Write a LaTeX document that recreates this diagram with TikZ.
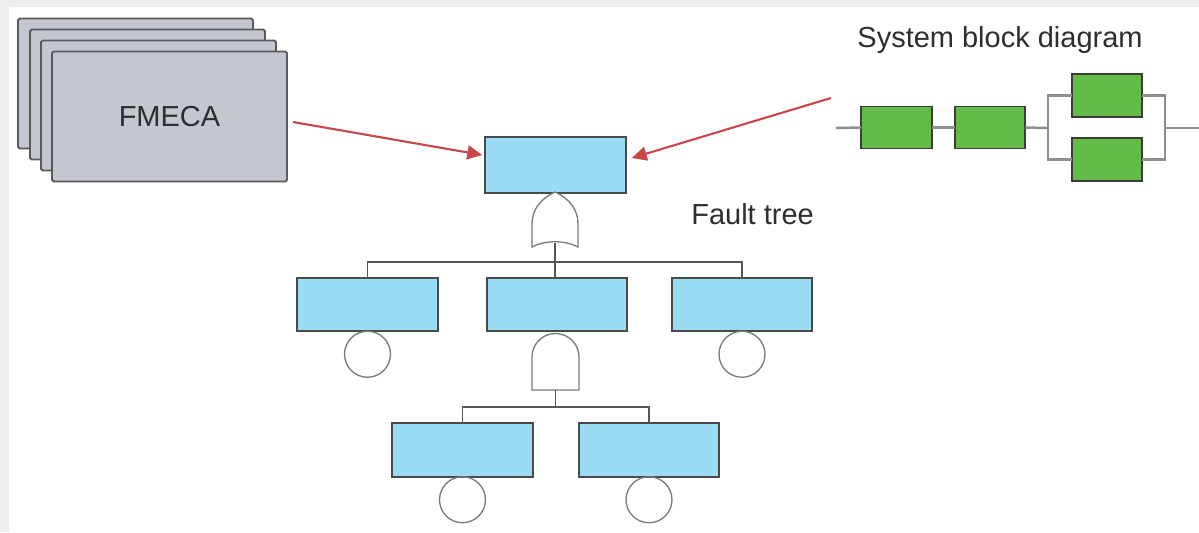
\documentclass[tikz,border=0pt]{standalone}
\usepackage{fontspec}
\setmainfont{Liberation Sans}
\usetikzlibrary{arrows.meta}
\definecolor{fmfill}{HTML}{C4C7D0}
\definecolor{fmdraw}{HTML}{5A5A5A}
\definecolor{ftfill}{HTML}{9ADCF4}
\definecolor{ftdraw}{HTML}{4A4A4A}
\definecolor{gfill}{HTML}{62BB46}
\definecolor{gdraw}{HTML}{3C3C3C}
\definecolor{sline}{HTML}{8E8E8E}
\definecolor{tline}{HTML}{555555}
\definecolor{gateline}{HTML}{7A7A7A}
\definecolor{redar}{HTML}{C8474A}
\definecolor{txt}{HTML}{2E2E2E}
\definecolor{bgband}{HTML}{EDEDED}
\tikzset{
  fmbox/.style={draw=fmdraw, fill=fmfill, line width=1.1pt, rounded corners=1pt,
    minimum width=4.7cm, minimum height=2.6cm, inner sep=0pt, outer sep=0pt},
  ftbox/.style={draw=ftdraw, fill=ftfill, line width=0.9pt,
    minimum width=2.81cm, minimum height=1.07cm, inner sep=0pt, outer sep=0pt},
  gbox/.style={draw=gdraw, fill=gfill, line width=0.9pt,
    minimum width=1.41cm, minimum height=0.84cm, inner sep=0pt, outer sep=0pt},
  evt/.style={draw=gateline, circle, line width=0.75pt, minimum size=0.92cm,
    inner sep=0pt, outer sep=0pt},
  gatepath/.style={draw=gateline, line width=0.75pt, fill=white},
  treeline/.style={draw=tline, line width=0.9pt},
  sysline/.style={draw=sline, line width=1.4pt},
  redarrow/.style={draw=redar, line width=1.2pt,
    -{Triangle[length=0.3cm,width=0.28cm]}},
  lbl/.style={text=txt, font=\fontsize{16.5}{20}\selectfont, inner sep=0pt}
}
\begin{document}
\begin{tikzpicture}[x=0.02cm,y=-0.02cm]
% background
\fill[bgband] (0,0) rectangle (1199,532);
\fill[white] (9,7) rectangle (1199,532);
\useasboundingbox (0,0) rectangle (1199,532);

% FMECA stack
\node[fmbox] (f1) at (135.5,83.5) {};
\node[fmbox] (f2) at (147.5,94.5) {};
\node[fmbox] (f3) at (158.5,105.5) {};
\node[fmbox] (f4) at (169.5,116.5) {};
\node[lbl] (fmtext) at (169.5,116.5) {FMECA};

% fault tree
\node[ftbox, minimum height=1.12cm] (top) at (555.5,165) {};
\node[ftbox] (b1) at (367.5,304.5) {};
\node[ftbox] (b2) at (557,304.5) {};
\node[ftbox] (b3) at (742,304.5) {};
\node[ftbox] (b4) at (462.5,450) {};
\node[ftbox] (b5) at (649,450) {};

\node[evt, anchor=north] (e1) at (b1.south) {};
\node[evt, anchor=north] (e3) at (b3.south) {};
\node[evt, anchor=north] (e4) at (b4.south) {};
\node[evt, anchor=north] (e5) at (b5.south) {};

% OR gate
\coordinate (orout) at (555,243);
\path[gatepath] (555,192) .. controls (540,199) and (532,210) .. (532,224)
  -- (532,247) .. controls (545,240) and (565,240) .. (578,247)
  -- (578,224) .. controls (578,210) and (570,199) .. (555,192) -- cycle;
% AND gate
\coordinate (andout) at (555.5,390);
\path[gatepath] (532,390) -- (532,357) arc[start angle=180, end angle=0, radius=0.47cm]
  -- (579,390) -- cycle;

% tree connectors
\coordinate (bar1) at (555,262);
\coordinate (bar2) at (555.5,407);
\draw[treeline] (orout) -- (bar1);
\draw[treeline] (b1.north) -- (b1.north |- bar1) -- (b3.north |- bar1) -- (b3.north);
\draw[treeline] (bar1) -- (bar1 |- b2.north);
\draw[treeline] (andout) -- (bar2);
\draw[treeline] (b4.north) -- (b4.north |- bar2) -- (b5.north |- bar2) -- (b5.north);

% system block diagram
\coordinate (sin) at (836,128);
\coordinate (sout) at (1199,128);
\coordinate (pl) at (1048,128);
\coordinate (pr) at (1165,128);
\node[gbox] (ga) at (896.5,127.5) {};
\node[gbox] (gb) at (990,127.5) {};
\node[gbox, minimum height=0.86cm] (gt) at (1107,95.5) {};
\node[gbox, minimum height=0.86cm] (gu) at (1107,159.5) {};
\draw[sysline] (sin) -- (ga.west);
\draw[sysline] (ga.east) -- (gb.west);
\draw[sysline] (gb.east) -- (pl);
\draw[sysline] (gt.west) -| (pl) |- (gu.west);
\draw[sysline] (gt.east) -| (pr) |- (gu.east);
\draw[sysline] (pr) -- (sout);

% labels
\node[lbl, anchor=base] (sbd) at (1000,47) {System block diagram};
\node[lbl, anchor=base west] (ftl) at (691,224) {Fault tree};

% red arrows
\coordinate (la) at (293,122);
\coordinate (ra) at (831,98);
\draw[redarrow] (la) -- ([shift={(-3,-10)}]top.west);
\draw[redarrow] (ra) -- ([shift={(6,-7)}]top.east);
\end{tikzpicture}
\end{document}
